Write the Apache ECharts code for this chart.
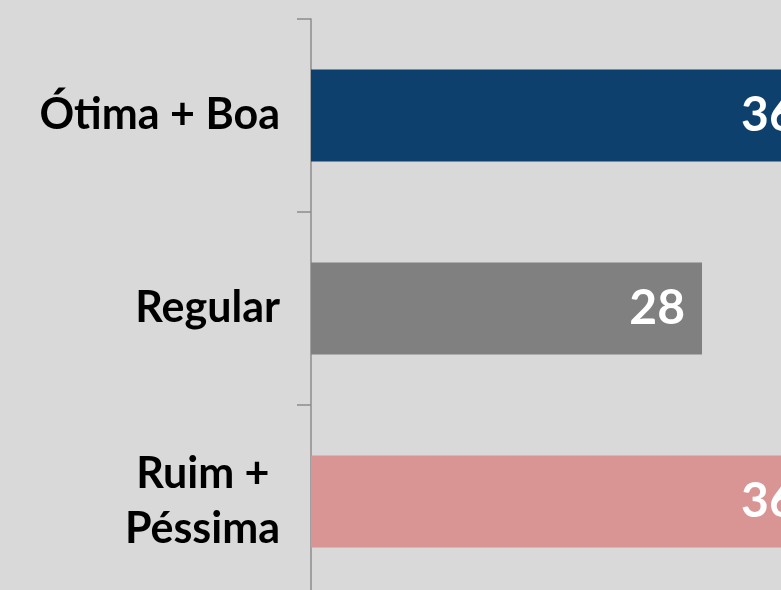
<!DOCTYPE html>
<html>
<head>
<meta charset="utf-8">
<script src="https://cdn.jsdelivr.net/npm/echarts@6/dist/echarts.min.js"></script>
<style>
  html, body { margin: 0; padding: 0; background: #d9d9d9; }
  #chart { width: 781px; height: 590px; }
</style>
</head>
<body>
<div id="chart"></div>
<script>
// Avaliação: categorias e percentuais
const categories = ['Ótima + Boa', 'Regular', 'Ruim + \nPéssima'];
const values = [36, 28, 36];
const barColors = ['#0e406e', '#808080', '#d99594'];

const chart = echarts.init(document.getElementById('chart'), null, { renderer: 'canvas' });

chart.setOption({
  backgroundColor: '#d9d9d9',
  animation: false,
  grid: {
    left: 311,
    top: 19,
    width: 558.6,
    height: 579,
    outerBoundsMode: 'none',
    containLabel: false
  },
  xAxis: {
    type: 'value',
    min: 0,
    max: 40,
    show: false
  },
  yAxis: {
    type: 'category',
    inverse: true,
    data: categories,
    axisLine: { show: true, lineStyle: { color: '#8c8c8c', width: 1.5 } },
    axisTick: { show: true, length: 14, lineStyle: { color: '#8c8c8c', width: 1.5 } },
    axisLabel: {
      margin: 31,
      color: '#000000',
      fontFamily: 'Lato',
      fontWeight: 'bold',
      fontSize: 43,
      lineHeight: 55,
      align: 'right'
    },
    splitLine: { show: false }
  },
  series: [{
    type: 'bar',
    barWidth: 92,
    data: values.map((v, i) => ({ value: v, itemStyle: { color: barColors[i] } })),
    label: {
      show: true,
      position: 'insideRight',
      distance: 17,
      color: '#ffffff',
      fontFamily: 'Lato',
      fontWeight: 'bold',
      fontSize: 48
    }
  }]
});
</script>
</body>
</html>
